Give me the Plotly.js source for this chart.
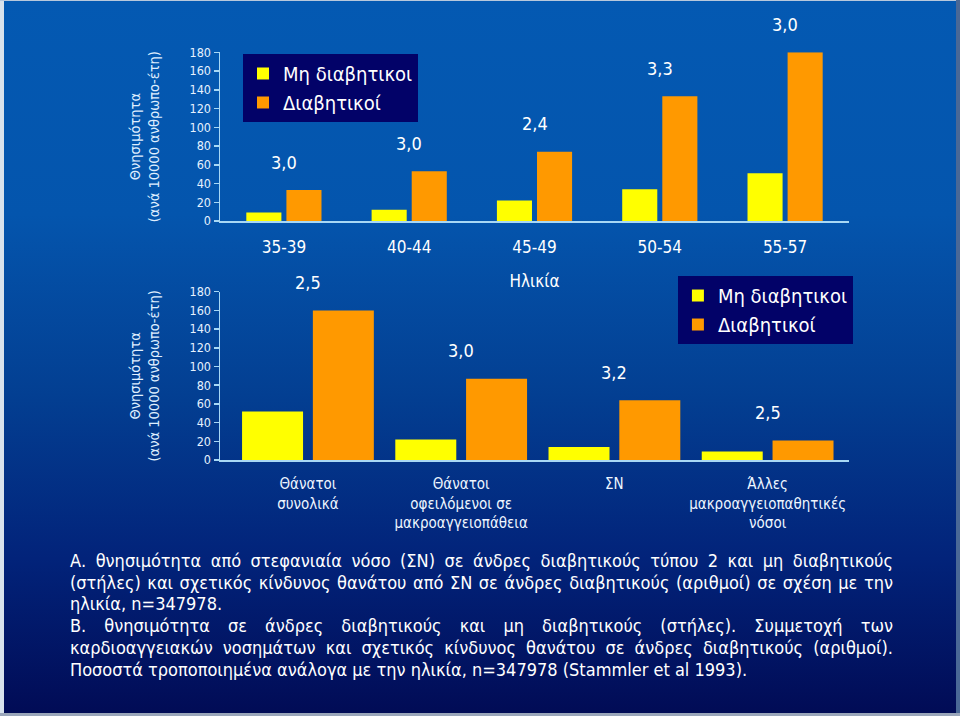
<!DOCTYPE html>
<html>
<head>
<meta charset="utf-8">
<script src="https://cdn.plot.ly/plotly-3.0.1.min.js"></script>
<style>
  html, body { margin: 0; padding: 0; }
  body { width: 960px; height: 716px; overflow: hidden; position: relative;
    background: linear-gradient(to bottom, #0459b2 0%, #0455ad 30%, #033f92 55%, #02237a 78%, #010b55 100%); }
  #chart { position: absolute; left: 0; top: 0; width: 960px; height: 716px; }
  #caption { position: absolute; left: 70px; top: 550px; width: 823px;
    font-family: "DejaVu Sans Condensed", "Liberation Sans", sans-serif; font-size: 18px;
    line-height: 21.7px; color: #ffffff; }
  #caption div.j { text-align: justify; text-align-last: justify; }
  #caption div.l { text-align: left; }
  .edge { position: absolute; pointer-events: none; }
</style>
</head>
<body>
<div id="chart"></div>
<div id="caption"></div>
<div class="edge" style="left:0;top:0;width:4px;height:716px;background:#d8e2ec;"></div>
<div class="edge" style="left:0;top:0;width:960px;height:1px;background:#b8c8dc;"></div>
<div class="edge" style="right:0;top:0;width:4px;height:716px;background:#4a6896;"></div>
<div class="edge" style="left:0;bottom:0;width:960px;height:3px;background:#9aa6ba;"></div>
<script>
// ---------- data ----------
const ageGroups = ['35-39', '40-44', '45-49', '50-54', '55-57'];
const nonDiabAge = [9, 12, 22, 34, 51];
const diabAge = [33, 53, 74, 133, 180];
const rrAge = ['3,0', '3,0', '2,4', '3,3', '3,0'];

const causes = ['Θάνατοι<br>συνολικά', 'Θάνατοι<br>οφειλόμενοι σε<br>μακροαγγειοπάθεια', 'ΣΝ', 'Άλλες<br>μακροαγγειοπαθητικές<br>νόσοι'];
const nonDiabCause = [52, 22, 14, 9];
const diabCause = [160, 87, 64, 21];
const rrCause = ['2,5', '3,0', '3,2', '2,5'];

const seriesNames = ['Μη διαβητικοι', 'Διαβητικοί'];
const yTitle = 'Θνησιμότητα<br>(ανά 10000 ανθρωπο-έτη)';
const xTitleTop = 'Ηλικία';

const captionLines = [
  ['j', 'Α. θνησιμότητα από στεφανιαία νόσο (ΣΝ) σε άνδρες διαβητικούς τύπου 2 και μη διαβητικούς'],
  ['j', '(στήλες) και σχετικός κίνδυνος θανάτου από ΣΝ σε άνδρες διαβητικούς (αριθμοί) σε σχέση με την'],
  ['l', 'ηλικία, n=347978.'],
  ['j', 'Β. θνησιμότητα σε άνδρες διαβητικούς και μη διαβητικούς (στήλες). Συμμετοχή των'],
  ['j', 'καρδιοαγγειακών νοσημάτων και σχετικός κίνδυνος θανάτου σε άνδρες διαβητικούς (αριθμοί).'],
  ['l', 'Ποσοστά τροποποιημένα ανάλογα με την ηλικία, n=347978 (Stammler et al 1993).']
];

// ---------- styles ----------
const FONT = '"DejaVu Sans Condensed", "Liberation Sans", sans-serif';
const YELLOW = '#ffff00';
const ORANGE = '#ff9900';
const AXIS = '#a8d8f5';
const TXT = '#ffffff';

const cap = document.getElementById('caption');
captionLines.forEach(([cls, t]) => {
  const d = document.createElement('div');
  d.className = cls;
  d.textContent = t;
  cap.appendChild(d);
});

const traces = [
  { type: 'bar', x: ageGroups, y: nonDiabAge, name: seriesNames[0], xaxis: 'x', yaxis: 'y',
    legend: 'legend', marker: { color: YELLOW }, width: 0.28, offset: -0.30, hoverinfo: 'y' },
  { type: 'bar', x: ageGroups, y: diabAge, name: seriesNames[1], xaxis: 'x', yaxis: 'y',
    legend: 'legend', marker: { color: ORANGE }, width: 0.28, offset: 0.02, hoverinfo: 'y' },
  { type: 'bar', x: causes, y: nonDiabCause, name: seriesNames[0], xaxis: 'x2', yaxis: 'y2',
    legend: 'legend2', marker: { color: YELLOW }, width: 0.398, offset: -0.43, hoverinfo: 'y' },
  { type: 'bar', x: causes, y: diabCause, name: seriesNames[1], xaxis: 'x2', yaxis: 'y2',
    legend: 'legend2', marker: { color: ORANGE }, width: 0.398, offset: 0.032, hoverinfo: 'y' }
];

const annotations = [];
ageGroups.forEach((g, i) => annotations.push({
  xref: 'x', yref: 'y', x: g, y: diabAge[i], text: rrAge[i], showarrow: false,
  yanchor: 'middle', yshift: 28, font: { family: FONT, size: 18, color: TXT }
}));
causes.forEach((c, i) => annotations.push({
  xref: 'x2', yref: 'y2', x: c, y: diabCause[i], text: rrCause[i], showarrow: false,
  yanchor: 'middle', yshift: 28, font: { family: FONT, size: 18, color: TXT }
}));

const yAxisCommon = {
  range: [0, 180], dtick: 20, showgrid: false, zeroline: false,
  showline: true, linecolor: AXIS, linewidth: 1.5,
  ticks: 'outside', ticklen: 5, tickcolor: AXIS, tickwidth: 1.5,
  tickfont: { family: FONT, size: 12.5, color: '#e6f2ff' },
  title: { text: yTitle, font: { family: FONT, size: 14.5, color: '#dfeeff' }, standoff: 26 },
  fixedrange: true
};

const layout = {
  width: 960, height: 716,
  margin: { l: 220, r: 111, t: 0, b: 0 },
  paper_bgcolor: 'rgba(0,0,0,0)', plot_bgcolor: 'rgba(0,0,0,0)',
  barmode: 'overlay',
  showlegend: true,
  font: { family: FONT, color: TXT },
  xaxis: {
    type: 'category', range: [-0.51, 4.51], anchor: 'y',
    showline: true, linecolor: AXIS, linewidth: 2, ticks: '', showgrid: false,
    tickfont: { family: FONT, size: 17, color: TXT }, ticklabelstandoff: 10,
    title: { text: xTitleTop, font: { family: FONT, size: 17, color: TXT }, standoff: 19 },
    fixedrange: true
  },
  yaxis: Object.assign({}, yAxisCommon, { domain: [0.6913, 0.9270], anchor: 'x' }),
  xaxis2: {
    type: 'category', range: [-0.574, 3.531], anchor: 'y2',
    showline: true, linecolor: AXIS, linewidth: 2, ticks: '', showgrid: false,
    tickfont: { family: FONT, size: 15, color: '#eef6ff' }, ticklabelstandoff: 9,
    fixedrange: true
  },
  yaxis2: Object.assign({}, yAxisCommon, { domain: [0.3575, 0.5926], anchor: 'x2' }),
  legend: {
    x: 0.0366, y: 0.9246, xanchor: 'left', yanchor: 'top',
    bgcolor: '#020268', borderwidth: 0,
    font: { family: FONT, size: 20, color: TXT }, traceorder: 'normal'
  },
  legend2: {
    x: 0.728, y: 0.6145, xanchor: 'left', yanchor: 'top',
    bgcolor: '#020268', borderwidth: 0,
    font: { family: FONT, size: 20, color: TXT }, traceorder: 'normal'
  },
  annotations: annotations
};

Plotly.newPlot('chart', traces, layout, { displayModeBar: false, staticPlot: true });
</script>
</body>
</html>
